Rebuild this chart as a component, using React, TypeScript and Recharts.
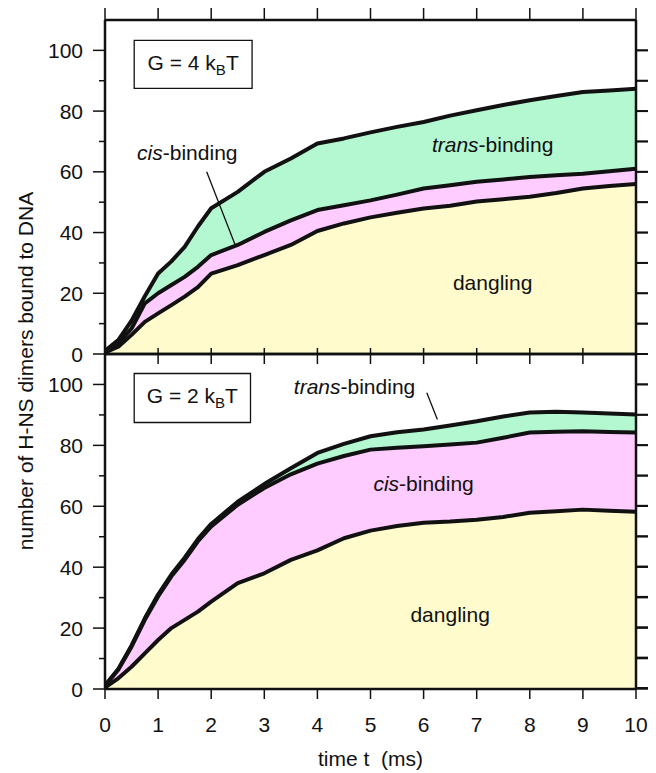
import React from 'react';
import { ComposedChart, Area, XAxis, YAxis, ReferenceArea, ReferenceLine } from 'recharts';

// time axis shared by both panels (ms)
const TIME = [0, 0.25, 0.5, 0.75, 1, 1.25, 1.5, 1.75, 2, 2.5, 3, 3.5, 4, 4.5, 5, 5.5, 6, 6.5, 7, 7.5, 8, 8.5, 9, 9.5, 10];

// G = 4 kBT, cumulative tops of each layer (dangling, +cis, +trans)
const G4_DANGLING = [0.5, 2.4, 6.3, 10.6, 13.4, 16.1, 18.9, 22, 26.5, 29.3, 32.6, 35.9, 40.5, 43, 45, 46.5, 47.9, 48.8, 50.2, 51, 51.8, 53, 54.5, 55.3, 56];
const G4_CIS = [1, 3.5, 8.4, 16.7, 20, 22.7, 25.4, 28.7, 32.6, 35.9, 40.2, 44, 47.4, 49, 50.6, 52.5, 54.5, 55.6, 56.7, 57.5, 58.3, 58.9, 59.4, 60.2, 61];
const G4_TRANS = [1, 4.6, 11, 19, 26.5, 30.5, 35.3, 42, 48, 53.4, 60, 64.4, 69.3, 71, 73, 74.8, 76.4, 78.5, 80.3, 82, 83.6, 85, 86.3, 86.8, 87.4];

// G = 2 kBT
const G2_DANGLING = [0.5, 3.5, 7.3, 11.7, 16.1, 20, 22.7, 25.4, 28.7, 34.8, 38, 42.4, 45.5, 49.5, 52, 53.5, 54.6, 55, 55.6, 56.5, 57.9, 58.4, 58.9, 58.5, 58.2];
const G2_CIS = [1, 6.3, 13.9, 22.7, 30.4, 37, 42.4, 48.5, 53.4, 60.5, 66, 70.5, 74, 76.5, 78.6, 79.2, 79.7, 80.3, 80.9, 82.5, 84.2, 84.5, 84.6, 84.4, 84.2];
const G2_TRANS = [1.2, 6.6, 14.3, 23.2, 31, 37.6, 43.1, 49.2, 54.2, 61.5, 67.3, 72.5, 77.5, 80.5, 83, 84.3, 85.2, 86.5, 87.9, 89.5, 90.8, 91, 90.8, 90.5, 90.1];

const T_TICKS = [0, 1, 2, 3, 4, 5, 6, 7, 8, 9, 10];
const N_TICKS = [0, 10, 20, 30, 40, 50, 60, 70, 80, 90, 100];

const FONT = '"Liberation Sans", Arial, Helvetica, sans-serif';
const INK = '#111';
const YELLOW = '#FFFBCC';
const PINK = '#FFCCFF';
const GREEN = '#B4F8D2';
const FS = 21;

// frame geometry shared by both panels
const PLOT_R = 636;
const PANEL_TOPS = [20, 354];
const PANEL_H = 334;
const Y_MAX = 110;

const rowsOf = (d: number[], c: number[], tr: number[]) =>
  TIME.map((t, i) => ({ t, dangling: d[i], cis: c[i], trans: tr[i] }));

const g4 = rowsOf(G4_DANGLING, G4_CIS, G4_TRANS);
const g2 = rowsOf(G2_DANGLING, G2_CIS, G2_TRANS);

const axisLine = { stroke: INK, strokeWidth: 2.5 };
const tickLine = { stroke: INK, strokeWidth: 1.5 };
const NoTick = () => <g />;

// left ticks: labelled every 20, short minor ticks between
function LeftTick({ x, y, payload }: any) {
  const major = payload.value % 20 === 0;
  return (
    <g>
      <line x1={x - (major ? 12 : 6)} x2={x} y1={y} y2={y} stroke={INK} strokeWidth={1.5} />
      {major && (
        <text x={x - 22} y={y} dy="0.36em" textAnchor="end" fontSize={FS} fill={INK}>
          {payload.value}
        </text>
      )}
    </g>
  );
}

function Note({ viewBox, parts, dy = '0.3em' }: any) {
  const cx = viewBox.x + viewBox.width / 2;
  const cy = viewBox.y + viewBox.height / 2;
  return (
    <text x={cx} y={cy} dy={dy} textAnchor="middle" fontSize={FS} fill={INK}>
      {parts}
    </text>
  );
}

const gLabel = (g: string) => (
  <>
    <tspan>{`G = ${g} k`}</tspan>
    <tspan fontSize={15} dy={5}>B</tspan>
    <tspan dy={-5}>T</tspan>
  </>
);
const binding = (kind: string) => (
  <>
    <tspan fontStyle="italic">{kind}</tspan>
    <tspan>-binding</tspan>
  </>
);

const ids = { xAxisId: 'b', yAxisId: 'l' } as const;

const yAxes = [
  <YAxis key="l" yAxisId="l" type="number" domain={[0, Y_MAX]} allowDataOverflow ticks={N_TICKS} interval={0} width={60} tickSize={0} tickMargin={0} axisLine={axisLine} tickLine={false} tick={LeftTick} />,
  <YAxis key="r" yAxisId="r" orientation="right" type="number" domain={[0, Y_MAX]} allowDataOverflow ticks={N_TICKS} interval={0} width={10} tickSize={12} axisLine={axisLine} tickLine={tickLine} tick={NoTick} />,
];

const series = [
  <Area key="tr" xAxisId="b" yAxisId="r" type="linear" dataKey="trans" fill={GREEN} fillOpacity={1} stroke={INK} strokeWidth={4} strokeLinejoin="round" dot={false} activeDot={false} isAnimationActive={false} />,
  <Area key="ci" xAxisId="b" yAxisId="l" type="linear" dataKey="cis" fill={PINK} fillOpacity={1} stroke={INK} strokeWidth={4} strokeLinejoin="round" dot={false} activeDot={false} isAnimationActive={false} />,
  <Area key="da" xAxisId="b" yAxisId="l" type="linear" dataKey="dangling" fill={YELLOW} fillOpacity={1} stroke={INK} strokeWidth={4} strokeLinejoin="round" dot={false} activeDot={false} isAnimationActive={false} />,
];

export default function App() {
  return (
    <div style={{ position: 'absolute', left: 0, top: 0, width: 656, height: 773, fontFamily: FONT, background: '#fff', overflow: 'hidden' }}>
      <div style={{ position: 'absolute', left: 0, top: 0 }}>
        <ComposedChart width={656} height={376} data={g4} margin={{ top: 8, right: 10, bottom: 12, left: 45 }}>
          <XAxis xAxisId="b" dataKey="t" type="number" domain={[0, 10]} allowDataOverflow ticks={T_TICKS} interval={0} height={10} tickSize={10} axisLine={axisLine} tickLine={tickLine} tick={NoTick} />
          <XAxis xAxisId="t" dataKey="t" orientation="top" type="number" domain={[0, 10]} allowDataOverflow ticks={T_TICKS} interval={0} height={12} tickSize={12} axisLine={axisLine} tickLine={tickLine} tick={NoTick} />
          {yAxes}
          {series}
          <ReferenceArea {...ids} x1={0.55} x2={2.77} y1={87.5} y2={103.3} fill="#fff" fillOpacity={1} stroke={INK} strokeWidth={1.3} label={<Note parts={gLabel('4')} dy="0.25em" />} />
          <ReferenceArea {...ids} x1={0.6} x2={2.5} y1={63} y2={69} fill="none" stroke="none" label={<Note parts={binding('cis')} />} />
          <ReferenceArea {...ids} x1={6.3} x2={8.3} y1={65.5} y2={71.5} fill="none" stroke="none" label={<Note parts={binding('trans')} />} />
          <ReferenceArea {...ids} x1={6.3} x2={8.3} y1={20} y2={26} fill="none" stroke="none" label={<Note parts="dangling" />} />
          <ReferenceLine {...ids} segment={[{ x: 1.915, y: 60 }, { x: 2.45, y: 36 }]} stroke={INK} strokeWidth={1.3} />
        </ComposedChart>
      </div>
      <div style={{ position: 'absolute', left: 0, top: 344 }}>
        <ComposedChart width={656} height={429} data={g2} margin={{ top: 0, right: 10, bottom: 0, left: 45 }}>
          <XAxis
            xAxisId="b" dataKey="t" type="number" domain={[0, 10]} allowDataOverflow ticks={T_TICKS} interval={0} height={84}
            tickSize={10} tickMargin={18} axisLine={axisLine} tickLine={tickLine}
            tick={{ fontSize: FS, fill: INK }}
            label={{ value: 'time t\u00a0 (ms)', position: 'insideBottom', offset: 7, fontSize: FS, fill: INK }}
          />
          <XAxis xAxisId="t" dataKey="t" orientation="top" type="number" domain={[0, 10]} allowDataOverflow ticks={T_TICKS} interval={0} height={10} tickSize={6} axisLine={axisLine} tickLine={tickLine} tick={NoTick} />
          {yAxes}
          {series}
          <ReferenceArea {...ids} x1={0.55} x2={2.74} y1={87.5} y2={103.6} fill="#fff" fillOpacity={1} stroke={INK} strokeWidth={1.3} label={<Note parts={gLabel('2')} dy="0.25em" />} />
          <ReferenceArea {...ids} x1={3.7} x2={5.7} y1={96} y2={102} fill="none" stroke="none" label={<Note parts={binding('trans')} />} />
          <ReferenceArea {...ids} x1={5} x2={7} y1={64} y2={70} fill="none" stroke="none" label={<Note parts={binding('cis')} />} />
          <ReferenceArea {...ids} x1={5.5} x2={7.5} y1={21} y2={27} fill="none" stroke="none" label={<Note parts="dangling" />} />
          <ReferenceLine {...ids} segment={[{ x: 6.06, y: 97.3 }, { x: 6.26, y: 88.5 }]} stroke={INK} strokeWidth={1.3} />
        </ComposedChart>
      </div>
      {/* outward ticks on the right frame of both panels, and the shared y label */}
      <svg style={{ position: 'absolute', left: 0, top: 0, zIndex: 5, pointerEvents: 'none' }} width={656} height={773}>
        {PANEL_TOPS.map((top) =>
          N_TICKS.map((v) => {
            const y = top + ((Y_MAX - v) / Y_MAX) * PANEL_H;
            return <line key={`${top}-${v}`} x1={PLOT_R} x2={PLOT_R + 12} y1={y} y2={y} stroke={INK} strokeWidth={2} />;
          })
        )}
        <text x={33} y={371} transform="rotate(-90 33 371)" textAnchor="middle" fontSize={FS} fill={INK}>
          number of H-NS dimers bound to DNA
        </text>
      </svg>
    </div>
  );
}
